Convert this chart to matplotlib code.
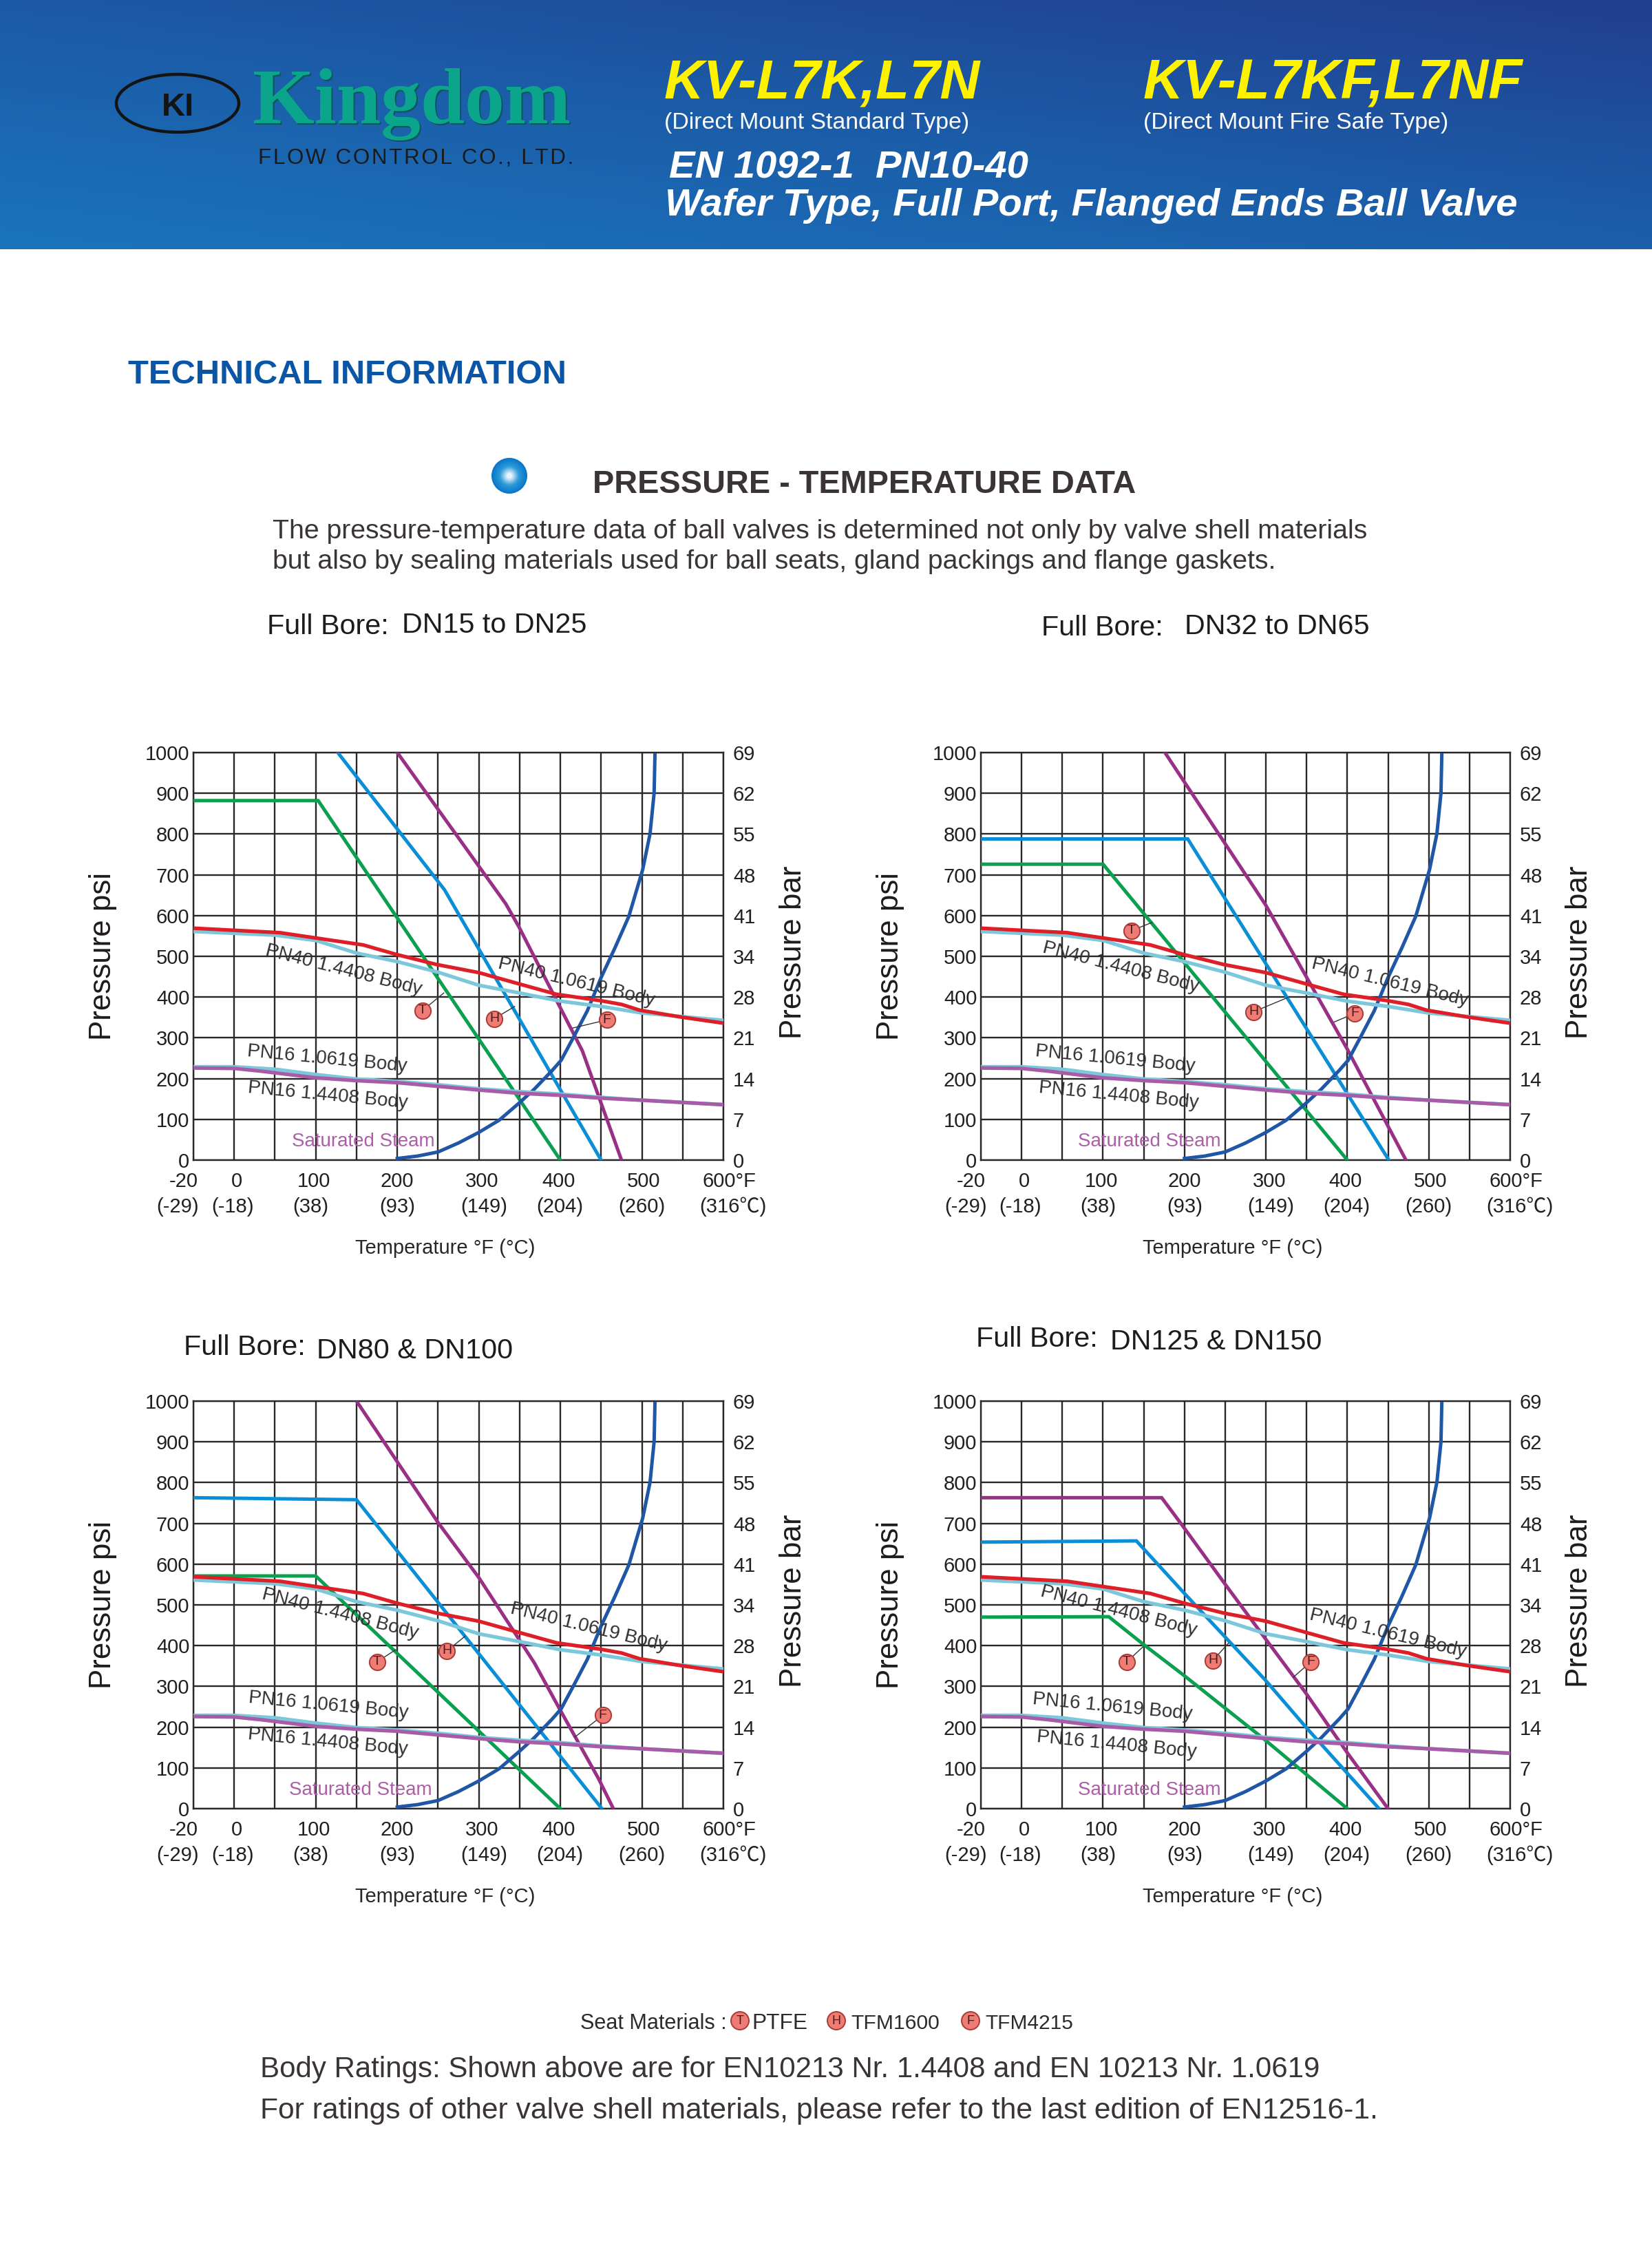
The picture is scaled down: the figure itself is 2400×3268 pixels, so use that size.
import numpy as np
import matplotlib
matplotlib.use("Agg")
import matplotlib.pyplot as plt
from matplotlib.colors import LinearSegmentedColormap
from matplotlib.font_manager import FontProperties
from matplotlib.patches import Ellipse, Circle
from matplotlib.textpath import TextPath

W, H, DPI = 2400, 3268, 200
plt.rcParams['font.family'] = ['Liberation Sans', 'DejaVu Sans']

# ---------- data: shared curves (temperature grid units in deg F, pressure psi)
PN40_10619_X = [-50, 56, 100, 158, 200, 248, 300, 350, 395, 450, 475, 497, 548, 600]
PN40_10619_Y = [569, 558, 545, 528, 504, 480, 460, 432, 407, 391, 382, 368, 351, 336]
PN40_14408_X = [-50, 50, 100, 150, 200, 250, 300, 350, 400, 450, 500, 600]
PN40_14408_Y = [561, 552, 539, 508, 487, 461, 429, 410, 390, 377, 361, 343]
PN16_10619_X = [-50, 0, 50, 100, 150, 200, 250, 300, 350, 400, 450, 500, 600]
PN16_10619_Y = [229, 229, 223, 210, 199, 193, 185, 175, 168, 162, 154, 147, 136]
PN16_14408_X = [-50, 0, 34, 100, 150, 200, 250, 300, 350, 400, 450, 500, 600]
PN16_14408_Y = [226, 225, 218, 202, 195, 190, 181, 172, 164, 159, 152, 147, 136]
STEAM_X = [200, 225, 250, 275, 300, 325, 350, 368, 390, 401, 416, 433, 450, 467, 484, 501, 510, 515, 516]
STEAM_Y = [4, 10, 20, 42, 68, 98, 141, 174, 220, 245, 301, 366, 448, 521, 598, 713, 801, 901, 994]

# ---------- data: seat curves per panel (T, H, F)
P1_T_X, P1_T_Y = [-50, 103, 400], [882, 882, 0]
P1_H_X, P1_H_Y = [127, 258, 450], [1000, 663, 0]
P1_F_X, P1_F_Y = [200, 333, 349, 427, 475], [1000, 629, 573, 268, 0]
P2_T_X, P2_T_Y = [-50, 100, 400], [726, 726, 0]
P2_H_X, P2_H_Y = [-50, 204, 451], [788, 788, 0]
P2_F_X, P2_F_Y = [176, 300, 400, 472], [1000, 625, 272, 0]
P3_T_X, P3_T_Y = [-50, 100, 400], [571, 571, 0]
P3_H_X, P3_H_Y = [-50, 150, 451], [763, 758, 0]
P3_F_X, P3_F_Y = [150, 250, 300, 368, 399, 447, 465], [1000, 702, 567, 358, 245, 73, 0]
P4_T_X, P4_T_Y = [-50, 107, 149, 200, 300, 400], [470, 471, 404, 326, 167, 0]
P4_H_X, P4_H_Y = [-50, 141, 200, 300, 350, 439], [654, 657, 528, 314, 198, 0]
P4_F_X, P4_F_Y = [-50, 172, 197, 248, 299, 350, 400, 450], [763, 763, 696, 556, 418, 281, 137, 0]

# ---------- data: seat badges and where their leaders end
SEAT_LETTERS = ['T', 'H', 'F']
P1_BADGE_X, P1_BADGE_Y = [231, 319, 457], [367, 347, 344]
P1_LEAD_X, P1_LEAD_Y = [257, 344, 415], [410, 377, 324]
P2_BADGE_X, P2_BADGE_Y = [135, 285, 409], [563, 364, 360]
P2_LEAD_X, P2_LEAD_Y = [160, 327, 384], [583, 399, 339]
P3_BADGE_X, P3_BADGE_Y = [175, 261, 452], [360, 387, 229]
P3_LEAD_X, P3_LEAD_Y = [198, 283, 418], [390, 423, 176]
P4_BADGE_X, P4_BADGE_Y = [129, 235, 355], [360, 364, 360]
P4_LEAD_X, P4_LEAD_Y = [149, 254, 334], [397, 406, 323]

# ---------- data: tick labels
PSI_TICKS = [0, 100, 200, 300, 400, 500, 600, 700, 800, 900, 1000]
BAR_LABELS = ['0', '7', '14', '21', '28', '34', '41', '48', '55', '62', '69']
GRID_X = list(range(-50, 601, 50))
F_LABELS = ['-20', '0', '100', '200', '300', '400', '500', '600°F']
F_LABEL_X = [-62, 3, 98, 200, 304, 398, 502, 607]
C_LABELS = ['(-29)', '(-18)', '(38)', '(93)', '(149)', '(204)', '(260)', '(316℃)']
C_LABEL_X = [-69, -2, 94, 200, 306, 399, 500, 612]
CURVE_NAMES = ['PN40 1.4408 Body', 'PN40 1.0619 Body', 'PN16 1.0619 Body', 'PN16 1.4408 Body']
CURVE_ANGLES = [-14.3, -13.6, -5.5, -5.5]
P1_NAME_X, P1_NAME_Y = [134, 420, 114, 115], [466, 437, 248, 159]
P2_NAME_X, P2_NAME_Y = [122, 452, 115, 119], [472, 436, 248, 159]
P3_NAME_X, P3_NAME_Y = [130, 435, 116, 115], [478, 444, 253, 163]
P4_NAME_X, P4_NAME_Y = [119, 450, 112, 117], [485, 430, 249, 157]

PANELS = [
    dict(rect=(281, 1093, 1051, 1685), seat=(P1_T_X, P1_T_Y, P1_H_X, P1_H_Y, P1_F_X, P1_F_Y),
         badge=(P1_BADGE_X, P1_BADGE_Y, P1_LEAD_X, P1_LEAD_Y), names=(P1_NAME_X, P1_NAME_Y), steam_x=158),
    dict(rect=(1425, 1093, 2194, 1685), seat=(P2_T_X, P2_T_Y, P2_H_X, P2_H_Y, P2_F_X, P2_F_Y),
         badge=(P2_BADGE_X, P2_BADGE_Y, P2_LEAD_X, P2_LEAD_Y), names=(P2_NAME_X, P2_NAME_Y), steam_x=157),
    dict(rect=(281, 2035, 1051, 2627), seat=(P3_T_X, P3_T_Y, P3_H_X, P3_H_Y, P3_F_X, P3_F_Y),
         badge=(P3_BADGE_X, P3_BADGE_Y, P3_LEAD_X, P3_LEAD_Y), names=(P3_NAME_X, P3_NAME_Y), steam_x=155),
    dict(rect=(1425, 2035, 2194, 2627), seat=(P4_T_X, P4_T_Y, P4_H_X, P4_H_Y, P4_F_X, P4_F_Y),
         badge=(P4_BADGE_X, P4_BADGE_Y, P4_LEAD_X, P4_LEAD_Y), names=(P4_NAME_X, P4_NAME_Y), steam_x=157),
]

INK = '#2e2a2b'
GREEN, BLUE, MAGENTA = '#0aa04f', '#0a8fd6', '#9a2f86'
RED, LTBLUE, ORCHID, STEAMC = '#df1f28', '#7cc8da', '#a85ca8', '#1f56a6'

fig = plt.figure(figsize=(W / DPI, H / DPI), dpi=DPI, facecolor='white')
page = fig.add_axes([0, 0, 1, 1], zorder=0)
page.set_xlim(0, W)
page.set_ylim(H, 0)
page.axis('off')


def ptext(x, y, s, width=None, size=11, weight='normal', style='normal', family='Liberation Sans',
          color=INK, **kw):
    """Place text at baseline pixel (x, y); when width is given, size is fitted to that pixel width."""
    if width is not None:
        fp = FontProperties(family=family, weight=weight, style=style)
        ext = TextPath((0, 0), s, size=10, prop=fp).get_extents()
        size = 10 * width / (ext.width * DPI / 72)
    return page.text(x, y, s, fontsize=size, fontweight=weight, fontstyle=style, family=family,
                     color=color, ha=kw.pop('ha', 'left'), va=kw.pop('va', 'baseline'), **kw)


# ---------- header band
u = np.linspace(0, 1, 400)
v = np.linspace(0, 1, 80)
uu, vv = np.meshgrid(u, v)
band = LinearSegmentedColormap.from_list('band', ['#1a74bc', '#1c5ca8', '#213f8e'])
page.imshow((uu * 0.9 + (1 - vv) * 1.1) / 2, extent=(0, W, 362, 0), cmap=band, vmin=0, vmax=1,
            aspect='auto', zorder=0)
page.set_xlim(0, W)
page.set_ylim(H, 0)

page.add_patch(Ellipse((258, 150), 178, 84, fill=False, ec='#141414', lw=1.6))
ptext(258, 168, 'KI', size=17, weight='bold', color='#141414', ha='center')
ptext(369, 181, 'Kingdom', width=458, weight='bold', family='Liberation Serif', color='#0c5560')
ptext(367, 179, 'Kingdom', width=458, weight='bold', family='Liberation Serif', color='#0aa58a')
ptext(375, 238, '\u200a'.join('FLOW CONTROL CO., LTD.'), width=452, color='#1a1a1a')

ptext(965, 142, 'KV-L7K,L7N', width=459, weight='bold', style='italic', color='#fff200')
ptext(1661, 142, 'KV-L7KF,L7NF', width=552, weight='bold', style='italic', color='#fff200')
ptext(965, 187, '(Direct Mount Standard Type)', width=440, color='white')
ptext(1661, 187, '(Direct Mount Fire Safe Type)', width=440, color='white')
ptext(972, 258, 'EN 1092-1  PN10-40', width=521, weight='bold', style='italic', color='white')
ptext(966, 313, 'Wafer Type, Full Port, Flanged Ends Ball Valve', width=1234, weight='bold',
      style='italic', color='white')

# ---------- section headings
ptext(186, 557, 'TECHNICAL INFORMATION', width=634, weight='bold', color='#0a55a5')
for r, c in zip(np.linspace(26, 4, 12),
                LinearSegmentedColormap.from_list('ball', ['#0a78c8', '#2a9ad8', '#e8f4fb'])(np.linspace(0, 1, 12))):
    page.add_patch(Circle((740, 691), r, fc=c, ec='none'))
ptext(861, 716, 'PRESSURE - TEMPERATURE DATA', width=786, weight='bold', color='#3a3435')
ptext(396, 782, 'The pressure-temperature data of ball valves is determined not only by valve shell materials',
      width=1590, color='#3a3435')
ptext(396, 826, 'but also by sealing materials used for ball seats, gland packings and flange gaskets.',
      width=1455, color='#3a3435')

TITLES = [(388, 921, 'Full Bore:', 584, 919, 'DN15 to DN25', 263),
          (1513, 923, 'Full Bore:', 1721, 921, 'DN32 to DN65', 263),
          (267, 1968, 'Full Bore:', 460, 1973, 'DN80 & DN100', 280),
          (1418, 1956, 'Full Bore:', 1613, 1960, 'DN125 & DN150', 302)]
for x1, y1, s1, x2, y2, s2, w2 in TITLES:
    ptext(x1, y1, s1, width=170, color='#1f1b1c')
    ptext(x2, y2, s2, width=w2, color='#1f1b1c')


# ---------- charts
def badge(ax, x, y, letter, zorder=8):
    ax.scatter([x], [y], s=70, fc='#ee7b74', ec='#a83a38', lw=0.7, zorder=zorder)
    ax.text(x, y, letter, fontsize=7, color='#3a2020', ha='center', va='center', zorder=zorder + 1)


for p in PANELS:
    x0, y0, x1, y1 = p['rect']
    ax = fig.add_axes([x0 / W, 1 - y1 / H, (x1 - x0) / W, (y1 - y0) / H], zorder=2)
    ax.set_xlim(-50, 600)
    ax.set_ylim(0, 1000)
    ax.patch.set_alpha(0)
    ax.set_xticks(GRID_X)
    ax.set_xticklabels([])
    ax.set_yticks(PSI_TICKS)
    ax.set_yticklabels([str(t) for t in PSI_TICKS], fontsize=10.5, color='#231f20')
    ax.tick_params(length=0, pad=2)
    ax.grid(True, color='#2b2627', lw=0.85)
    ax.set_axisbelow(True)
    for s in ax.spines.values():
        s.set_color('#2b2627')
        s.set_linewidth(0.85)

    tx, ty, hx, hy, fx, fy = p['seat']
    ax.plot(tx, ty, color=GREEN, lw=1.8, zorder=3, solid_joinstyle='miter')
    ax.plot(hx, hy, color=BLUE, lw=1.8, zorder=3, solid_joinstyle='miter')
    ax.plot(fx, fy, color=MAGENTA, lw=1.8, zorder=3, solid_joinstyle='miter')
    ax.plot(STEAM_X, STEAM_Y, color=STEAMC, lw=1.8, zorder=3)
    ax.plot(PN40_14408_X, PN40_14408_Y, color=LTBLUE, lw=1.9, zorder=4)
    ax.plot(PN40_10619_X, PN40_10619_Y, color=RED, lw=1.9, zorder=5)
    ax.plot(PN16_10619_X, PN16_10619_Y, color=LTBLUE, lw=1.9, zorder=4)
    ax.plot(PN16_14408_X, PN16_14408_Y, color=ORCHID, lw=1.9, zorder=5)

    bx, by, lx, ly = p['badge']
    for a, b, c, d, letter in zip(bx, by, lx, ly, SEAT_LETTERS):
        ax.plot([a, c], [b, d], color='#333333', lw=0.5, zorder=6)
        badge(ax, a, b, letter)

    nx, ny = p['names']
    for a, b, name, ang in zip(nx, ny, CURVE_NAMES, CURVE_ANGLES):
        ax.text(a, b, name, fontsize=10, color='#333031', rotation=ang, rotation_mode='anchor',
                ha='center', va='center', zorder=7)
    ax.text(p['steam_x'], 45, 'Saturated Steam', fontsize=10, color='#ac5fa6', ha='center', va='center', zorder=7)

    for xv, s in zip(F_LABEL_X, F_LABELS):
        ax.annotate(s, xy=(xv, 0), xycoords=('data', 'axes fraction'), xytext=(0, -31 * 72 / DPI),
                    textcoords='offset points', ha='center', va='center', fontsize=10.5,
                    color='#231f20', annotation_clip=False)
    for xv, s in zip(C_LABEL_X, C_LABELS):
        ax.annotate(s, xy=(xv, 0), xycoords=('data', 'axes fraction'), xytext=(0, -68 * 72 / DPI),
                    textcoords='offset points', ha='center', va='center', fontsize=10.5,
                    family=['Liberation Sans', 'Noto Sans CJK SC', 'DejaVu Sans'],
                    color='#231f20', annotation_clip=False)
    ax.annotate('Temperature °F (°C)', xy=(0.475, 0), xycoords='axes fraction', xytext=(0, -128 * 72 / DPI),
                textcoords='offset points', ha='center', va='center', fontsize=10.5, color='#2a2627',
                annotation_clip=False)
    ax.annotate('Pressure psi', xy=(0, 0.5), xycoords='axes fraction', xytext=(-132 * 72 / DPI, 0),
                textcoords='offset points', ha='center', va='center', rotation=90, fontsize=15.8,
                color='#1f1b1c', annotation_clip=False)
    ax.annotate('Pressure bar', xy=(1, 0.5), xycoords='axes fraction', xytext=(101 * 72 / DPI, 6 * 72 / DPI),
                textcoords='offset points', ha='center', va='center', rotation=90, fontsize=15.8,
                color='#1f1b1c', annotation_clip=False)

    twin = ax.twinx()
    twin.set_ylim(0, 1000)
    twin.set_yticks(PSI_TICKS)
    twin.set_yticklabels(BAR_LABELS, fontsize=10.5, color='#231f20')
    twin.tick_params(length=0, pad=5)
    for s in twin.spines.values():
        s.set_visible(False)

# ---------- footer
ptext(843, 2947, 'Seat Materials :', width=209, color='#2e2a2b')
for bxp, lblx, letter, name, wd in [(1075, 1092, 'T', 'PTFE', 77), (1215, 1236, 'H', 'TFM1600', 127),
                                    (1410, 1431, 'F', 'TFM4215', 126)]:
    page.add_patch(Circle((bxp, 2935), 13, fc='#ee7b74', ec='#a83a38', lw=0.7))
    page.text(bxp, 2935, letter, fontsize=6.5, ha='center', va='center', color='#3a2020')
    ptext(lblx, 2947, name, width=wd, color='#2e2a2b')
ptext(378, 3017, 'Body Ratings: Shown above are for EN10213 Nr. 1.4408 and EN 10213 Nr. 1.0619', width=1535,
      color='#3a3435')
ptext(378, 3077, 'For ratings of other valve shell materials, please refer to the last edition of EN12516-1.',
      width=1617, color='#3a3435')

fig.savefig('out.png', dpi=DPI, facecolor='white')
